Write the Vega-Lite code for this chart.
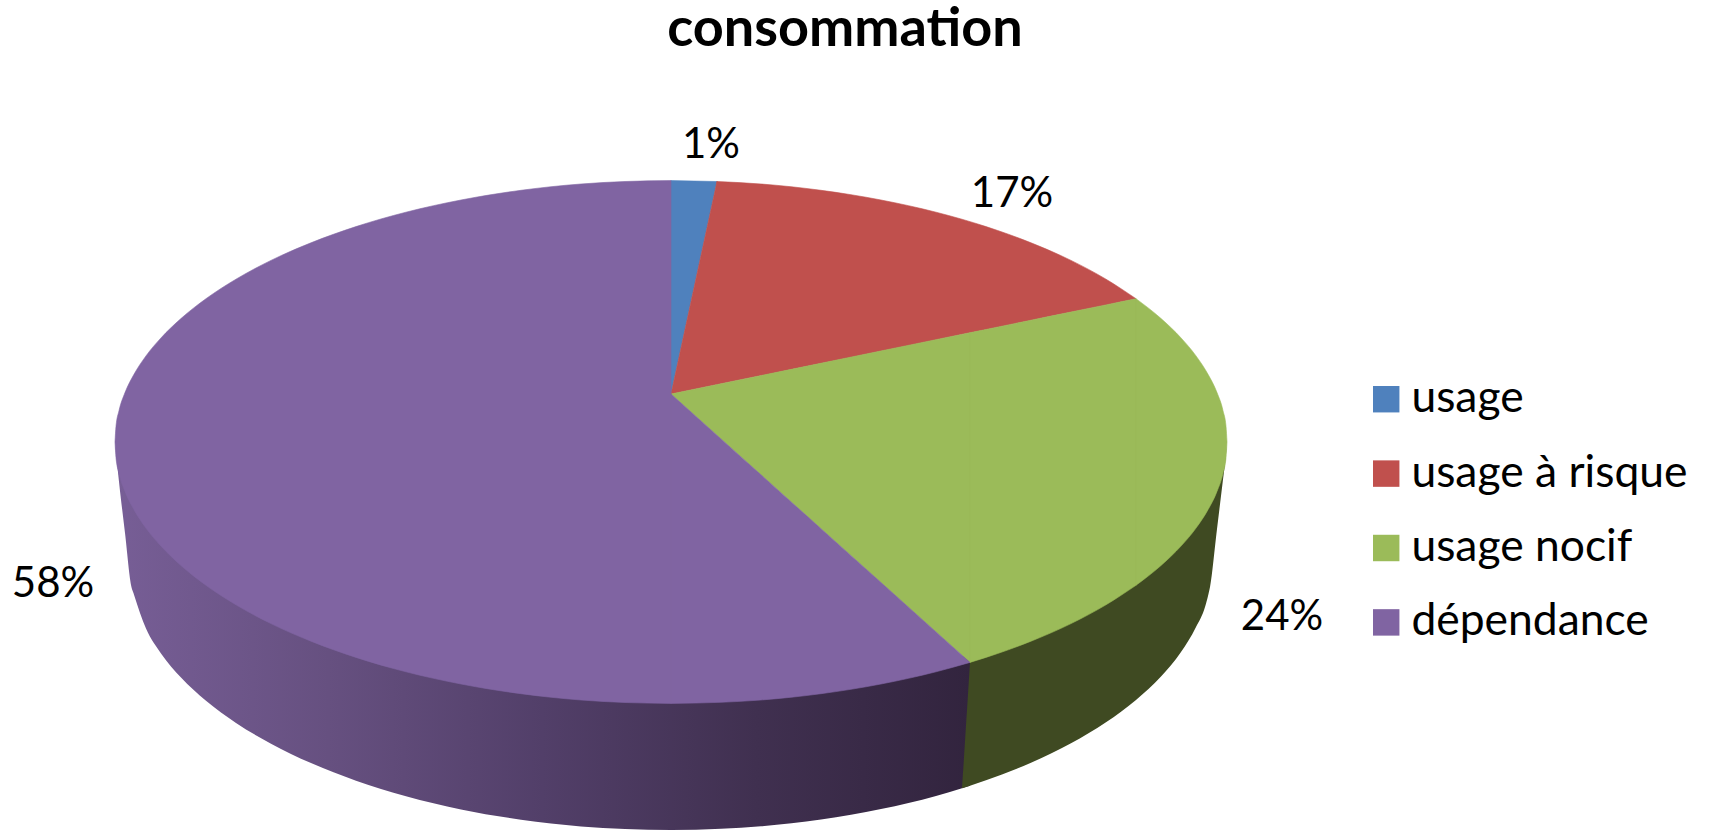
{
  "$schema": "https://vega.github.io/schema/vega-lite/v6.json",
  "width": 1709,
  "height": 830,
  "padding": 0,
  "autosize": {"type": "none"},
  "background": "#ffffff",
  "view": {"stroke": null},
  "datasets": {
    "sidePurple": [
      {"px": 115, "upper": 442, "lower": 442}, {"px": 119, "upper": 465.3, "lower": 481.7},
      {"px": 125, "upper": 483.4, "lower": 533}, {"px": 131, "upper": 496.3, "lower": 585},
      {"px": 134, "upper": 501.7, "lower": 594.7}, {"px": 146, "upper": 520.1, "lower": 628.6},
      {"px": 161, "upper": 538.1, "lower": 653.5}, {"px": 181, "upper": 557.5, "lower": 677.6},
      {"px": 206, "upper": 577.3, "lower": 700.8}, {"px": 236, "upper": 596.8, "lower": 722.9},
      {"px": 271, "upper": 615.6, "lower": 743.7}, {"px": 311, "upper": 633.2, "lower": 763.1},
      {"px": 356, "upper": 649.4, "lower": 780.7}, {"px": 406, "upper": 663.8, "lower": 796.2},
      {"px": 461, "upper": 676, "lower": 809.4}, {"px": 521, "upper": 685.7, "lower": 819.7},
      {"px": 581, "upper": 692, "lower": 826.4}, {"px": 625, "upper": 694.5, "lower": 829},
      {"px": 671, "upper": 695.4, "lower": 830}, {"px": 721, "upper": 694.3, "lower": 828.8},
      {"px": 761, "upper": 692, "lower": 826.3}, {"px": 821, "upper": 685.7, "lower": 819.6},
      {"px": 881, "upper": 676, "lower": 809.1}, {"px": 936, "upper": 663.8, "lower": 795.9},
      {"px": 962, "upper": 656.7, "lower": 788.3}, {"px": 970, "upper": 654.4, "lower": 785.8}
    ],
    "sideGreen": [
      {"part": "joint", "px": 962, "upper": 788.3, "lower": 788.3},
      {"part": "joint", "px": 970, "upper": 662.4, "lower": 785.8},
      {"part": "rim", "px": 970, "upper": 654.4, "lower": 785.8},
      {"part": "rim", "px": 986, "upper": 649.4, "lower": 780.3},
      {"part": "rim", "px": 1031, "upper": 633.2, "lower": 762.7},
      {"part": "rim", "px": 1071, "upper": 615.6, "lower": 743.2},
      {"part": "rim", "px": 1106, "upper": 596.8, "lower": 722.2},
      {"part": "rim", "px": 1136, "upper": 577.3, "lower": 699.9},
      {"part": "rim", "px": 1161, "upper": 557.5, "lower": 676.5},
      {"part": "rim", "px": 1181, "upper": 538.1, "lower": 652.1},
      {"part": "rim", "px": 1196, "upper": 520.1, "lower": 627},
      {"part": "rim", "px": 1205, "upper": 506, "lower": 607},
      {"part": "rim", "px": 1208, "upper": 501.7, "lower": 596},
      {"part": "rim", "px": 1210, "upper": 498, "lower": 587},
      {"part": "rim", "px": 1217, "upper": 483.4, "lower": 529},
      {"part": "rim", "px": 1223, "upper": 465.3, "lower": 479.5},
      {"part": "rim", "px": 1226, "upper": 449.7, "lower": 454},
      {"part": "rim", "px": 1227, "upper": 442, "lower": 442}
    ],
    "faces": [
      {"slice": "usage", "part": "a", "px": 671, "upper": 180.6, "lower": 394},
      {"slice": "usage", "part": "a", "px": 717, "upper": 181.5, "lower": 181.5},

      {"slice": "usage à risque", "part": "a", "px": 671, "upper": 394, "lower": 394},
      {"slice": "usage à risque", "part": "a", "px": 717, "upper": 181.5, "lower": 384.6},
      {"slice": "usage à risque", "part": "b", "px": 717, "upper": 181.5, "lower": 384.6},
      {"slice": "usage à risque", "part": "b", "px": 761, "upper": 184, "lower": 375.6},
      {"slice": "usage à risque", "part": "b", "px": 821, "upper": 190.3, "lower": 363.3},
      {"slice": "usage à risque", "part": "b", "px": 881, "upper": 200, "lower": 351},
      {"slice": "usage à risque", "part": "b", "px": 936, "upper": 212.2, "lower": 339.7},
      {"slice": "usage à risque", "part": "b", "px": 986, "upper": 226.6, "lower": 329.5},
      {"slice": "usage à risque", "part": "b", "px": 1031, "upper": 242.8, "lower": 320.2},
      {"slice": "usage à risque", "part": "b", "px": 1071, "upper": 260.4, "lower": 312},
      {"slice": "usage à risque", "part": "b", "px": 1106, "upper": 279.2, "lower": 304.9},
      {"slice": "usage à risque", "part": "b", "px": 1136, "upper": 298.7, "lower": 298.7},

      {"slice": "usage nocif", "part": "a", "px": 671, "upper": 394, "lower": 394},
      {"slice": "usage nocif", "part": "a", "px": 970, "upper": 332.7, "lower": 662.4},
      {"slice": "usage nocif", "part": "b", "px": 970, "upper": 332.7, "lower": 662.4},
      {"slice": "usage nocif", "part": "b", "px": 986, "upper": 329.5, "lower": 657.4},
      {"slice": "usage nocif", "part": "b", "px": 1031, "upper": 320.2, "lower": 641.2},
      {"slice": "usage nocif", "part": "b", "px": 1071, "upper": 312, "lower": 623.6},
      {"slice": "usage nocif", "part": "b", "px": 1106, "upper": 304.9, "lower": 604.8},
      {"slice": "usage nocif", "part": "b", "px": 1136, "upper": 298.7, "lower": 585.3},
      {"slice": "usage nocif", "part": "c", "px": 1136, "upper": 298.7, "lower": 585.3},
      {"slice": "usage nocif", "part": "c", "px": 1161, "upper": 318.5, "lower": 565.5},
      {"slice": "usage nocif", "part": "c", "px": 1181, "upper": 337.9, "lower": 546.1},
      {"slice": "usage nocif", "part": "c", "px": 1196, "upper": 355.9, "lower": 528.1},
      {"slice": "usage nocif", "part": "c", "px": 1208, "upper": 374.3, "lower": 509.7},
      {"slice": "usage nocif", "part": "c", "px": 1217, "upper": 392.6, "lower": 491.4},
      {"slice": "usage nocif", "part": "c", "px": 1223, "upper": 410.7, "lower": 473.3},
      {"slice": "usage nocif", "part": "c", "px": 1226, "upper": 426.3, "lower": 457.7},
      {"slice": "usage nocif", "part": "c", "px": 1227, "upper": 442, "lower": 442},

      {"slice": "dépendance", "part": "a", "px": 115, "upper": 442, "lower": 442},
      {"slice": "dépendance", "part": "a", "px": 116, "upper": 426.3, "lower": 457.7},
      {"slice": "dépendance", "part": "a", "px": 119, "upper": 410.7, "lower": 473.3},
      {"slice": "dépendance", "part": "a", "px": 125, "upper": 392.6, "lower": 491.4},
      {"slice": "dépendance", "part": "a", "px": 134, "upper": 374.3, "lower": 509.7},
      {"slice": "dépendance", "part": "a", "px": 146, "upper": 355.9, "lower": 528.1},
      {"slice": "dépendance", "part": "a", "px": 161, "upper": 337.9, "lower": 546.1},
      {"slice": "dépendance", "part": "a", "px": 181, "upper": 318.5, "lower": 565.5},
      {"slice": "dépendance", "part": "a", "px": 206, "upper": 298.7, "lower": 585.3},
      {"slice": "dépendance", "part": "a", "px": 236, "upper": 279.2, "lower": 604.8},
      {"slice": "dépendance", "part": "a", "px": 271, "upper": 260.4, "lower": 623.6},
      {"slice": "dépendance", "part": "a", "px": 311, "upper": 242.8, "lower": 641.2},
      {"slice": "dépendance", "part": "a", "px": 356, "upper": 226.6, "lower": 657.4},
      {"slice": "dépendance", "part": "a", "px": 406, "upper": 212.2, "lower": 671.8},
      {"slice": "dépendance", "part": "a", "px": 461, "upper": 200, "lower": 684},
      {"slice": "dépendance", "part": "a", "px": 521, "upper": 190.3, "lower": 693.7},
      {"slice": "dépendance", "part": "a", "px": 581, "upper": 184, "lower": 700},
      {"slice": "dépendance", "part": "a", "px": 625, "upper": 181.5, "lower": 702.5},
      {"slice": "dépendance", "part": "a", "px": 671, "upper": 180.6, "lower": 703.4},
      {"slice": "dépendance", "part": "b", "px": 671, "upper": 394, "lower": 703.4},
      {"slice": "dépendance", "part": "b", "px": 721, "upper": 438.9, "lower": 702.3},
      {"slice": "dépendance", "part": "b", "px": 761, "upper": 474.8, "lower": 700},
      {"slice": "dépendance", "part": "b", "px": 821, "upper": 528.7, "lower": 693.7},
      {"slice": "dépendance", "part": "b", "px": 881, "upper": 582.5, "lower": 684},
      {"slice": "dépendance", "part": "b", "px": 936, "upper": 631.9, "lower": 671.8},
      {"slice": "dépendance", "part": "b", "px": 970, "upper": 662.4, "lower": 662.4}
    ],
    "shares": [
      {"slice": "usage", "share": 0.01, "px": 711, "base": 158},
      {"slice": "usage à risque", "share": 0.17, "px": 1012, "base": 207},
      {"slice": "usage nocif", "share": 0.24, "px": 1282, "base": 630},
      {"slice": "dépendance", "share": 0.58, "px": 53, "base": 597}
    ],
    "heading": [
      {"label": "consommation", "px": 845, "base": 46}
    ]
  },
  "encoding": {
    "x": {"field": "px", "type": "quantitative", "axis": null, "scale": {"domain": [0, 1709], "nice": false, "zero": false}},
    "y": {"field": "upper", "type": "quantitative", "axis": null, "scale": {"domain": [830, 0], "nice": false, "zero": false}}
  },
  "layer": [
    {
      "data": {"name": "sidePurple"},
      "mark": {
        "type": "area",
        "clip": true,
        "interpolate": "monotone",
        "color": {
          "gradient": "linear",
          "x1": 0, "y1": 0, "x2": 1, "y2": 0,
          "stops": [
            {"offset": 0, "color": "#775e96"},
            {"offset": 0.25, "color": "#665080"},
            {"offset": 0.5, "color": "#523f69"},
            {"offset": 0.75, "color": "#403050"},
            {"offset": 1, "color": "#32243e"}
          ]
        }
      },
      "encoding": {"y2": {"field": "lower"}}
    },
    {
      "data": {"name": "sideGreen"},
      "mark": {"type": "area", "clip": true, "interpolate": "monotone", "color": "#3f4a22"},
      "encoding": {"y2": {"field": "lower"}, "detail": {"field": "part"}}
    },
    {
      "data": {"name": "faces"},
      "mark": {"type": "area", "interpolate": "monotone", "strokeWidth": 0.6},
      "encoding": {
        "y2": {"field": "lower"},
        "detail": {"field": "part"},
        "color": {
          "field": "slice",
          "type": "nominal",
          "scale": {
            "domain": ["usage", "usage à risque", "usage nocif", "dépendance"],
            "range": ["#4f81bd", "#c0504d", "#9bbb59", "#8064a2"]
          },
          "legend": {
            "orient": "none",
            "legendX": 1364,
            "legendY": 377,
            "title": null,
            "symbolType": "square",
            "symbolSize": 700,
            "symbolStrokeWidth": 0,
            "labelFont": "Lato",
            "labelFontSize": 44.4,
            "labelColor": "#000000",
            "labelOffset": 3,
            "rowPadding": 29.4,
            "labelLimit": 400
          }
        },
        "stroke": {"field": "slice", "type": "nominal", "legend": null, "scale": {
            "domain": ["usage", "usage à risque", "usage nocif", "dépendance"],
            "range": ["#4f81bd", "#c0504d", "#9bbb59", "#8064a2"]
        }}
      }
    },
    {
      "data": {"name": "shares"},
      "mark": {"type": "text", "font": "Lato", "fontSize": 42, "align": "center", "baseline": "alphabetic", "color": "#000000"},
      "encoding": {
        "y": {"field": "base", "type": "quantitative"},
        "text": {"field": "share", "type": "quantitative", "format": ".0%"}
      }
    },
    {
      "data": {"name": "heading"},
      "mark": {"type": "text", "font": "Lato", "fontSize": 54, "fontWeight": "bold", "align": "center", "baseline": "alphabetic", "color": "#000000"},
      "encoding": {
        "y": {"field": "base", "type": "quantitative"},
        "text": {"field": "label", "type": "nominal"}
      }
    }
  ]
}
